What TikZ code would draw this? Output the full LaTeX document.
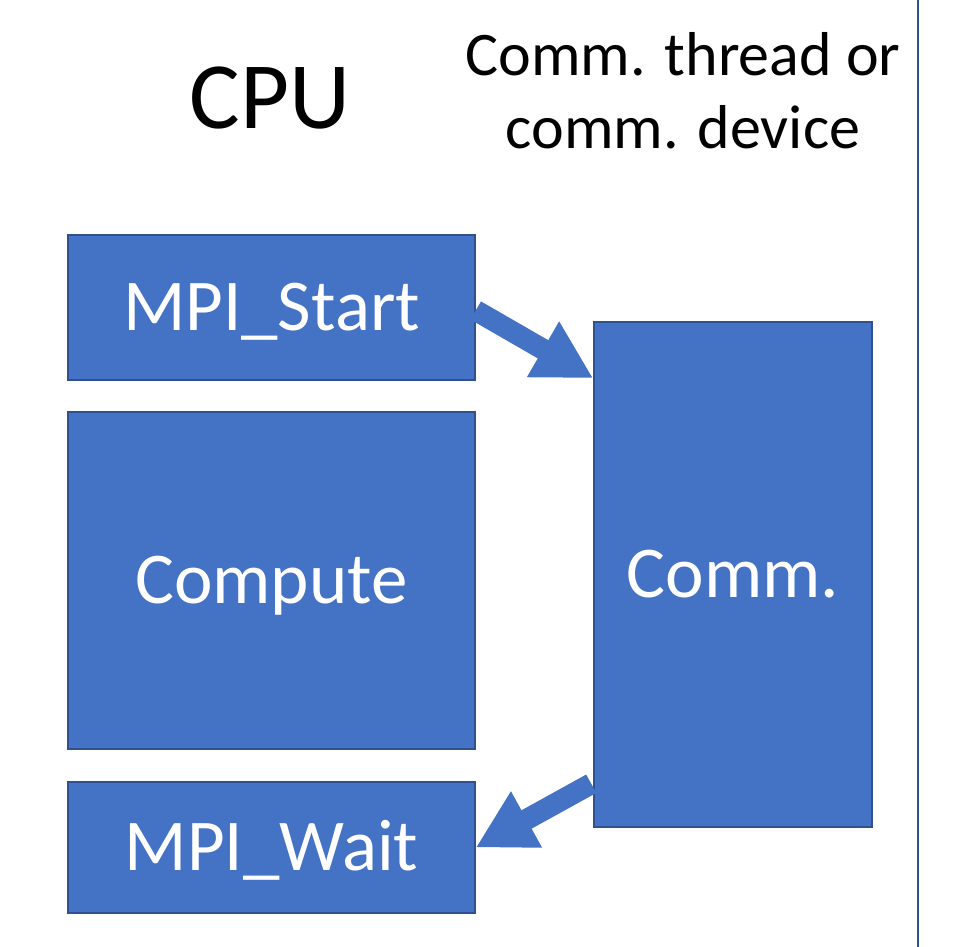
\documentclass[tikz,border=0pt]{standalone}
\usepackage{fontspec}
\setmainfont{Carlito}
\usetikzlibrary{arrows.meta,calc}
\definecolor{boxfill}{HTML}{4472C4}
\definecolor{boxedge}{HTML}{2F528F}
\begin{document}
\begin{tikzpicture}[x=1pt,y=-1pt,
  block/.style={draw=boxedge,line width=1.5pt,fill=boxfill,text=white,inner sep=0pt},
  blocktext/.style={font=\fontsize{73}{88}\selectfont,text height=45pt,text depth=0pt},
  flow/.style={draw=boxfill,line width=21pt,-{Triangle[width=60pt,length=58pt]}},
  heading/.style={text=black,align=center}]
  \useasboundingbox (0,0) rectangle (959,947);

  % CPU-side blocks
  \node[block,blocktext,minimum width=407pt,minimum height=145pt] (start) at (271.5,307.5) {MPI\_Start};
  \node[block,blocktext,minimum width=407pt,minimum height=337pt] (compute) at (271.5,580.5) {Compute};
  \node[block,blocktext,minimum width=407pt,minimum height=131pt] (wait) at (271.5,847.5) {MPI\_Wait};

  % communication side
  \node[block,blocktext,minimum width=278pt,minimum height=505pt] (comm) at (733,574.5) {Comm.};

  % headings
  \node[heading,font=\fontsize{95}{114}\selectfont] (cpu) at (270,98) {CPU};
  \node[heading,font=\fontsize{62}{73}\selectfont] (side) at (683,91) {Comm. thread or\\comm. device};

  % right border line
  \coordinate (ltop) at (918,0);
  \coordinate (lbot) at (918,947);
  \draw[boxedge,line width=2.5pt] (ltop) -- (lbot);

  % arrows
  \draw[flow] ($(start.east)+(0pt,-3pt)$) -- ($(comm.north west)+(0pt,-57pt)$);
  \draw[flow] ($(comm.south west)+(-2pt,44pt)$) -- (wait.east);
\end{tikzpicture}
\end{document}
